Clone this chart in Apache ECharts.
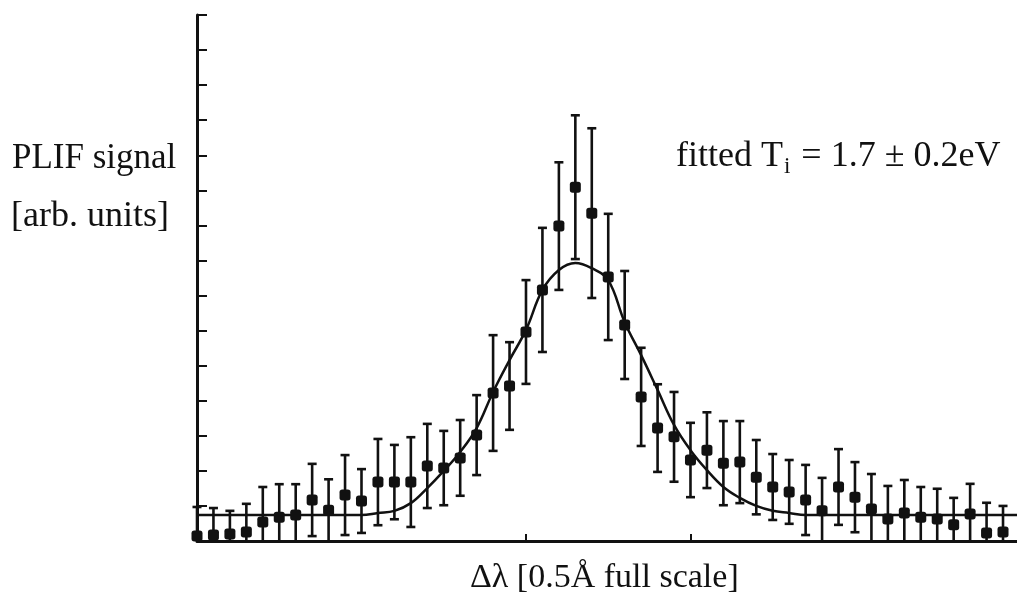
<!DOCTYPE html>
<html>
<head>
<meta charset="utf-8">
<style>
  html, body { margin: 0; padding: 0; background: #fff; }
  #chart { width: 1017px; height: 604px; }
</style>
<script src="https://cdn.jsdelivr.net/npm/echarts@6/dist/echarts.min.js"></script>
</head>
<body>
<div id="chart"></div>
<script>
// PLIF line profile: measured signal per wavelength channel, with error bars and the fitted profile.
const signal = [
  0.14, 0.17, 0.20, 0.26, 0.54, 0.68, 0.74, 1.17, 0.88, 1.31,
  1.14, 1.68, 1.68, 1.68, 2.14, 2.08, 2.37, 3.02, 4.22, 4.42,
  5.96, 7.16, 8.98, 10.09, 9.35, 7.53, 6.16, 4.11, 3.22, 2.97,
  2.31, 2.59, 2.22, 2.25, 1.82, 1.54, 1.40, 1.17, 0.86, 1.54,
  1.25, 0.91, 0.63, 0.80, 0.68, 0.63, 0.46, 0.77, 0.23, 0.26
];
const signalErr = [
  0.83, 0.77, 0.66, 0.80, 1.00, 0.94, 0.88, 1.03, 0.88, 1.14,
  0.91, 1.23, 1.06, 1.28, 1.20, 1.06, 1.08, 1.14, 1.65, 1.25,
  1.48, 1.77, 1.82, 2.05, 2.42, 1.80, 1.54, 1.40, 1.25, 1.28,
  1.06, 1.08, 1.20, 1.17, 1.06, 0.94, 0.91, 1.00, 0.94, 1.08,
  1.00, 1.00, 0.94, 0.94, 0.86, 0.86, 0.77, 0.86, 0.86, 0.74
];
// fitted profile sampled at each channel
const fitCurve = [
  0.74, 0.74, 0.74, 0.74, 0.74, 0.74, 0.74, 0.74, 0.74, 0.74,
  0.74, 0.80, 0.86, 1.08, 1.51, 2.00, 2.54, 3.22, 4.25, 5.16,
  6.02, 7.16, 7.73, 7.93, 7.78, 7.44, 6.24, 5.30, 4.31, 3.31,
  2.59, 2.02, 1.54, 1.23, 1.00, 0.86, 0.80, 0.74, 0.74, 0.74,
  0.74, 0.74, 0.74, 0.74, 0.74, 0.74, 0.74, 0.74, 0.74, 0.74,
  0.74
];
const xTickValues = [20, 30];

const INK = '#111';
const FONT = '"Liberation Serif", "DejaVu Serif", serif';

const pointData = signal.map((v, i) => [i, v]);
const errData = signal.map((v, i) => [i, v - signalErr[i], v + signalErr[i]]);
const fitData = fitCurve.map((v, i) => [i, v]);

const chart = echarts.init(document.getElementById('chart'), null, { renderer: 'canvas' });

chart.setOption({
  backgroundColor: '#fff',
  animation: false,
  grid: { left: 197, right: 0, top: 15, bottom: 63, containLabel: false },
  xAxis: {
    type: 'value', min: 0, max: 49.85,
    axisLine: { show: true, lineStyle: { color: INK, width: 3 } },
    axisTick: { show: true, inside: true, length: 7, customValues: xTickValues,
                lineStyle: { color: INK, width: 2 } },
    axisLabel: { show: false },
    splitLine: { show: false }
  },
  yAxis: {
    type: 'value', min: 0, max: 15, interval: 1,
    axisLine: { show: true, lineStyle: { color: INK, width: 3 } },
    axisTick: { show: true, inside: true, length: 10, lineStyle: { color: INK, width: 2 } },
    axisLabel: { show: false },
    splitLine: { show: false }
  },
  series: [
    {
      name: 'fit', type: 'line', data: fitData, smooth: 0.4,
      showSymbol: false, lineStyle: { color: INK, width: 2.5 }, z: 2
    },
    {
      name: 'errors', type: 'custom', data: errData, z: 3,
      renderItem: function (params, api) {
        const x = api.value(0);
        const lo = Math.max(api.value(1), 0);
        const hi = api.value(2);
        const pLo = api.coord([x, lo]);
        const pHi = api.coord([x, hi]);
        const cap = 4.5;
        const style = { stroke: INK, lineWidth: 2.6 };
        const children = [
          { type: 'line', shape: { x1: pLo[0], y1: pLo[1], x2: pHi[0], y2: pHi[1] }, style: style },
          { type: 'line', shape: { x1: pHi[0] - cap, y1: pHi[1], x2: pHi[0] + cap, y2: pHi[1] }, style: style }
        ];
        if (api.value(1) > 0) {
          children.push({ type: 'line', shape: { x1: pLo[0] - cap, y1: pLo[1], x2: pLo[0] + cap, y2: pLo[1] }, style: style });
        }
        return { type: 'group', children: children };
      }
    },
    {
      name: 'signal', type: 'scatter', data: pointData, symbol: 'roundRect',
      symbolSize: 11, itemStyle: { color: INK, opacity: 1 }, z: 4
    }
  ],
  graphic: [
    { type: 'text', left: 12, top: 141, style: { text: 'PLIF signal', font: '35px ' + FONT, fill: INK } },
    { type: 'text', left: 11, top: 199, style: { text: '[arb. units]', font: '36px ' + FONT, fill: INK } },
    {
      type: 'text', left: 676, top: 139,
      style: {
        text: '{a|fitted T}{s|i}{a| = 1.7 ± 0.2eV}',
        fill: INK,
        rich: {
          a: { font: '36px ' + FONT, lineHeight: 42, fill: INK },
          s: { font: '23px ' + FONT, lineHeight: 42, verticalAlign: 'bottom', padding: [0, 2, 0, 1], fill: INK }
        }
      }
    },
    { type: 'text', left: 470, top: 561, style: { text: 'Δλ [0.5Å full scale]', font: '34px ' + FONT, fill: INK } }
  ]
});
</script>
</body>
</html>
